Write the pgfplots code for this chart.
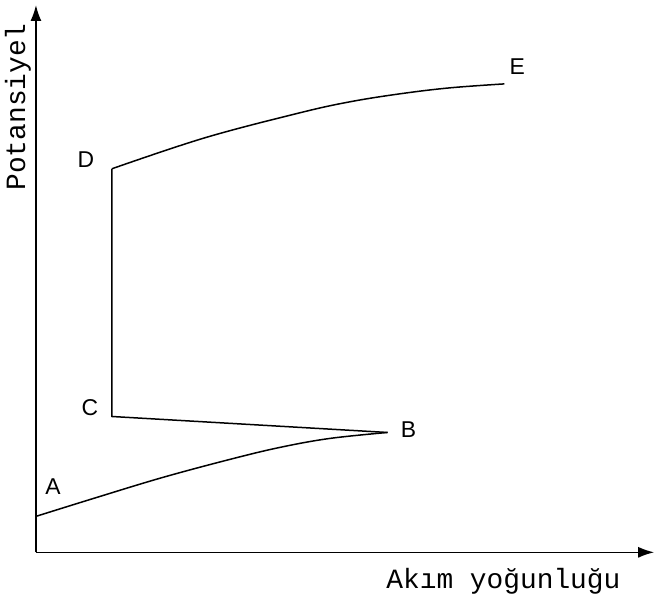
\documentclass[border=0pt]{standalone}
\usepackage{pgfplots}
\pgfplotsset{compat=1.18}
\usepackage{fontspec}
\setmainfont{Liberation Sans}
\newfontfamily\mono{Liberation Mono}
\usetikzlibrary{arrows.meta}
\begin{document}
\begin{tikzpicture}
\begin{axis}[
  scale only axis,
  width=619bp, height=548bp,
  xmin=36, xmax=655, ymin=51, ymax=599,
  axis x line=bottom, axis y line=left,
  xtick=\empty, ytick=\empty,
  clip=false,
  axis line style={line width=1.6bp, -{Latex[length=16bp,width=11bp]}},
]
\path (axis cs:0,0) rectangle (axis cs:655,604);
% A -> B
\addplot[black, line width=1.5bp, smooth, tension=0.6] coordinates {
 (36,87) (97,106) (163,126) (230,144) (280,156) (330,165) (388,171)};
% B -> C -> D
\addplot[black, line width=1.5bp] coordinates {
 (388,171) (112,187) (112,435)};
% D -> E
\addplot[black, line width=1.5bp, smooth, tension=0.6] coordinates {
 (112,435) (205,466) (300,491) (350,502) (400,510) (450,516) (505,520)};
\begin{scope}[every node/.style={font=\fontsize{23}{23}\selectfont}]
\node at (axis cs:53,117) {A};
\node at (axis cs:409,174) {B};
\node at (axis cs:90,196) {C};
\node at (axis cs:86,444) {D};
\node at (axis cs:518,537) {E};
\end{scope}
\node[rotate=90, font=\mono\fontsize{28}{28}\selectfont] at (axis cs:18,497) {Potansiyel};
\node[font=\mono\fontsize{28}{28}\selectfont] at (axis cs:504,22) {Akım yoğunluğu};
\end{axis}
\end{tikzpicture}
\end{document}
